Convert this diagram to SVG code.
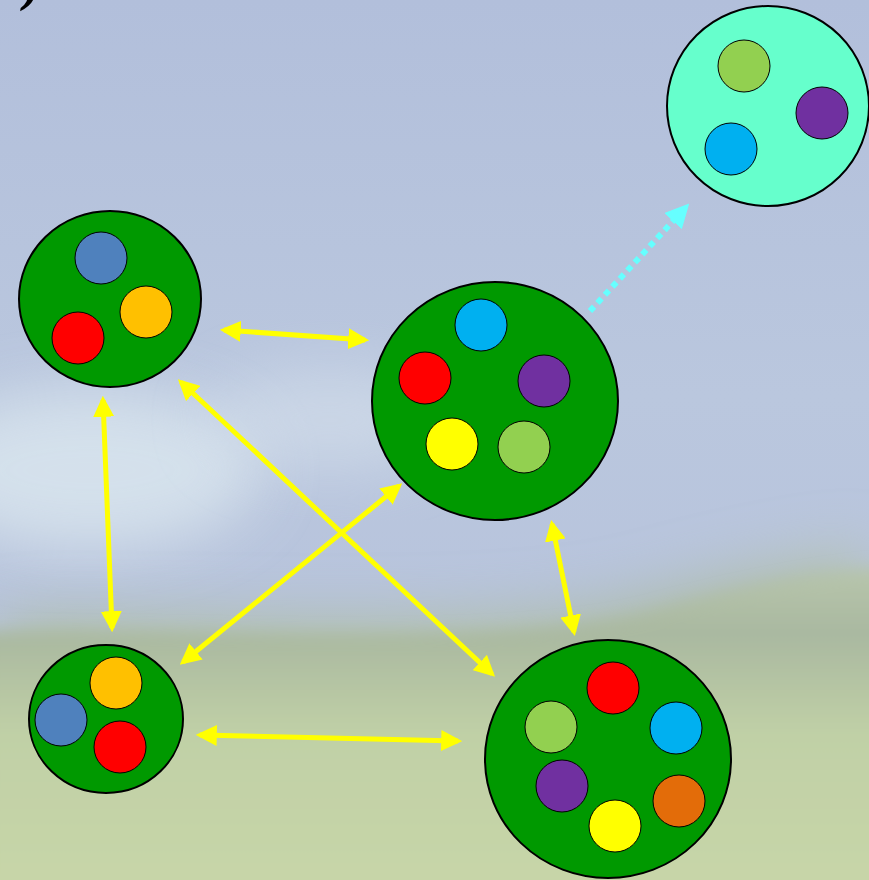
<svg xmlns="http://www.w3.org/2000/svg" width="869" height="880" viewBox="0 0 869 880">
<style>
.node{stroke:#000;stroke-width:2}
.big{fill:#009900}
.aqua{fill:#66ffcc}
.dot{stroke:#000;stroke-width:1}
.link{stroke:#ffff00;stroke-width:5;fill:none;marker-start:url(#ah);marker-end:url(#ah)}
.dash{stroke:#66ffff;stroke-width:6;fill:none;stroke-dasharray:6 5;marker-end:url(#ahc)}
</style>
<defs>
<linearGradient id="sky" x1="0" y1="0" x2="0" y2="1">
<stop offset="0" stop-color="#b2bfdb"/>
<stop offset="0.45" stop-color="#bac7de"/>
<stop offset="0.75" stop-color="#b7c3dc"/>
<stop offset="1" stop-color="#bcc8dc"/>
</linearGradient>
<linearGradient id="grass" x1="0" y1="0" x2="0" y2="1">
<stop offset="0" stop-color="#b8c6ac"/>
<stop offset="0.2" stop-color="#a9b8a0"/>
<stop offset="0.5" stop-color="#c0d0a6"/>
<stop offset="1" stop-color="#c8d6a8"/>
</linearGradient>
<filter id="blur" x="-50%" y="-50%" width="200%" height="200%"><feGaussianBlur stdDeviation="30"/></filter>
<filter id="soft" x="-10%" y="-10%" width="120%" height="120%"><feGaussianBlur stdDeviation="8"/></filter>
<marker id="ah" viewBox="0 0 10 10" refX="8" refY="5" markerWidth="21" markerHeight="21" markerUnits="userSpaceOnUse" orient="auto-start-reverse">
<path d="M0,0 L10,5 L0,10 z" fill="#ffff00"/>
</marker>
<marker id="ahc" viewBox="0 0 10 10" refX="8" refY="5" markerWidth="24" markerHeight="24" markerUnits="userSpaceOnUse" orient="auto">
<path d="M0,0 L10,5 L0,10 z" fill="#66ffff"/>
</marker>
</defs>
<g id="background">
<rect x="0" y="0" width="869" height="880" fill="url(#sky)"/>
<ellipse cx="90" cy="470" rx="170" ry="80" fill="#e0ecf2" opacity="0.7" filter="url(#blur)"/>
<ellipse cx="330" cy="420" rx="120" ry="50" fill="#dce6ef" opacity="0.5" filter="url(#blur)"/>
<path d="M0,622 C200,618 500,640 650,600 C740,575 820,560 869,555 L869,880 L0,880 z" fill="url(#grass)" filter="url(#blur)"/>
<path d="M-20,632 C200,628 500,650 650,612 C740,588 820,572 890,567 L890,900 L-20,900 z" fill="url(#grass)" filter="url(#soft)"/>
</g>
<text x="24" y="0" font-family="Liberation Serif, serif" font-style="italic" font-weight="bold" font-size="52" fill="#000">)</text>
<g id="connectors">
<line class="link" x1="224" y1="330" x2="365" y2="340"/>
<line class="link" x1="103" y1="400" x2="112" y2="628"/>
<line class="link" x1="181" y1="382" x2="492" y2="674"/>
<line class="link" x1="399" y1="486" x2="183" y2="662"/>
<line class="link" x1="552" y1="524" x2="574" y2="632"/>
<line class="link" x1="200" y1="735" x2="458" y2="741"/>
<line class="dash" x1="590" y1="311" x2="686" y2="207"/>
</g>
<g id="node-top-left">
<ellipse class="node big" cx="110" cy="299" rx="91" ry="88"/>
<circle class="dot" cx="101" cy="258" r="26" fill="#4f81bd"/>
<circle class="dot" cx="146" cy="312" r="26" fill="#ffc000"/>
<circle class="dot" cx="78" cy="338" r="26" fill="#ff0000"/>
</g>
<g id="node-center">
<ellipse class="node big" cx="495" cy="401" rx="123" ry="119"/>
<circle class="dot" cx="481" cy="325" r="26" fill="#00b0f0"/>
<circle class="dot" cx="425" cy="378" r="26" fill="#ff0000"/>
<circle class="dot" cx="544" cy="381" r="26" fill="#7030a0"/>
<circle class="dot" cx="452" cy="444" r="26" fill="#ffff00"/>
<circle class="dot" cx="524" cy="447" r="26" fill="#92d050"/>
</g>
<g id="node-top-right">
<ellipse class="node aqua" cx="768" cy="106" rx="101" ry="100"/>
<circle class="dot" cx="744" cy="66" r="26" fill="#92d050"/>
<circle class="dot" cx="822" cy="113" r="26" fill="#7030a0"/>
<circle class="dot" cx="731" cy="149" r="26" fill="#00b0f0"/>
</g>
<g id="node-bottom-left">
<ellipse class="node big" cx="106" cy="719" rx="77" ry="74"/>
<circle class="dot" cx="116" cy="683" r="26" fill="#ffc000"/>
<circle class="dot" cx="61" cy="720" r="26" fill="#4f81bd"/>
<circle class="dot" cx="120" cy="747" r="26" fill="#ff0000"/>
</g>
<g id="node-bottom-right">
<ellipse class="node big" cx="608" cy="759" rx="123" ry="119"/>
<circle class="dot" cx="613" cy="688" r="26" fill="#ff0000"/>
<circle class="dot" cx="551" cy="727" r="26" fill="#92d050"/>
<circle class="dot" cx="676" cy="728" r="26" fill="#00b0f0"/>
<circle class="dot" cx="562" cy="786" r="26" fill="#7030a0"/>
<circle class="dot" cx="679" cy="801" r="26" fill="#e36c09"/>
<circle class="dot" cx="615" cy="826" r="26" fill="#ffff00"/>
</g>
</svg>
